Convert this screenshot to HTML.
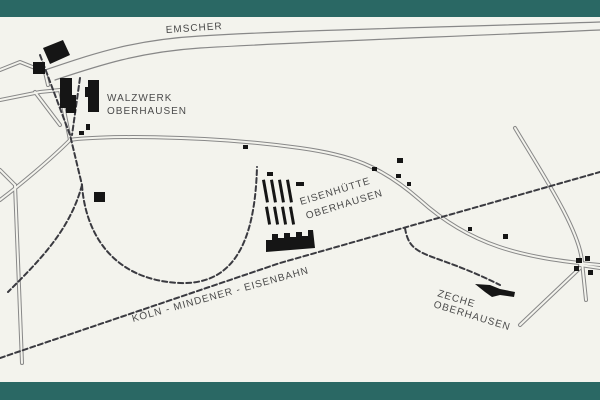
<!DOCTYPE html>
<html><head><meta charset="utf-8"><style>
html,body{margin:0;padding:0;background:#f3f3ed}
svg{display:block}
text{font-family:"Liberation Sans",sans-serif;fill:#4a4a4a;font-size:10px;letter-spacing:1px}
</style></head><body>
<svg width="600" height="400" viewBox="0 0 600 400" xmlns="http://www.w3.org/2000/svg">
<rect width="600" height="400" fill="#f3f3ed"/>
<g fill="none" stroke-linecap="round" stroke-linejoin="round">
<g stroke="#888" stroke-width="4">
<path d="M70,140 C90,136 200,134 300,148 C350,155 380,165 420,200 C470,245 520,258 600,265"/>
<path d="M70,140 C50,160 20,185 0,200"/>
<path d="M15,185 L22,363"/>
<path d="M0,170 L15,185"/>
<path d="M0,100 L40,92 L60,90 L70,140"/>
<path d="M35,92 L60,125"/>
<path d="M0,70 L20,62 L45,72 L48,85"/>
<path d="M515,128 C540,170 580,230 582,262 L586,300"/>
<path d="M520,325 L580,268"/>
<path d="M580,265 L600,268"/>
</g>
<g stroke="#f3f3ed" stroke-width="2">
<path d="M70,140 C90,136 200,134 300,148 C350,155 380,165 420,200 C470,245 520,258 600,265"/>
<path d="M70,140 C50,160 20,185 0,200"/>
<path d="M15,185 L22,363"/>
<path d="M0,170 L15,185"/>
<path d="M0,100 L40,92 L60,90 L70,140"/>
<path d="M35,92 L60,125"/>
<path d="M0,70 L20,62 L45,72 L48,85"/>
<path d="M515,128 C540,170 580,230 582,262 L586,300"/>
<path d="M520,325 L580,268"/>
<path d="M580,265 L600,268"/>
</g>
<g stroke="#888" stroke-width="1.2">
<path d="M45,70 C90,55 130,40 200,36 C300,30 420,28 600,22"/>
<path d="M55,80 C100,65 140,52 200,48 C300,42 420,38 600,30"/>
</g>
<g stroke="#3a3a40" stroke-width="2" stroke-dasharray="5,3">
<path d="M0,358 L280,263 L600,172"/>
<path d="M40,55 L70,135 L82,185"/>
<path d="M80,78 L72,135"/>
<path d="M82,185 C70,230 40,260 8,292"/>
<path d="M82,185 C85,230 110,280 180,283 C235,285 255,240 257,167"/>
<path d="M405,228 C410,260 430,250 500,285"/>
</g>
</g>
<g fill="#151515">
<polygon points="43,48 63,40 70,55 50,64"/>
<rect x="33" y="62" width="12" height="12"/>
<rect x="60" y="78" width="12" height="30"/>
<rect x="66" y="95" width="10" height="18"/>
<rect x="88" y="80" width="11" height="32"/>
<rect x="85" y="87" width="5" height="10"/>
<rect x="86" y="124" width="4" height="6"/>
<rect x="79" y="131" width="5" height="4"/>
<rect x="243" y="145" width="5" height="4"/>
<rect x="94" y="192" width="11" height="10"/>
<rect x="267" y="172" width="6" height="4"/>
<g transform="translate(262,180)">
<rect x="0" y="0" width="3" height="23" transform="rotate(-10)"/>
<rect x="8" y="0" width="3" height="23" transform="rotate(-10 8 0)"/>
<rect x="16" y="0" width="3" height="23" transform="rotate(-10 16 0)"/>
<rect x="24" y="0" width="3" height="23" transform="rotate(-10 24 0)"/>
<rect x="3" y="27" width="3" height="18" transform="rotate(-10 3 27)"/>
<rect x="11" y="27" width="3" height="18" transform="rotate(-10 11 27)"/>
<rect x="19" y="27" width="3" height="18" transform="rotate(-10 19 27)"/>
<rect x="27" y="27" width="3" height="18" transform="rotate(-10 27 27)"/>
</g>
<rect x="296" y="182" width="8" height="4"/>
<path d="M266,240 L266,252 L315,248 L313,230 L308,230 L308,236 L302,236 L302,232 L296,232 L296,237 L290,237 L290,233 L284,233 L284,238 L278,238 L278,234 L272,234 L272,240 Z"/>
<rect x="372" y="167" width="5" height="4"/>
<rect x="397" y="158" width="6" height="5"/>
<rect x="396" y="174" width="5" height="4"/>
<rect x="407" y="182" width="4" height="4"/>
<rect x="468" y="227" width="4" height="4"/>
<rect x="503" y="234" width="5" height="5"/>
<path d="M475,284 L490,285 L500,289 L515,292 L514,297 L500,295 L492,297 L485,292 Z"/>
<rect x="576" y="258" width="6" height="5"/>
<rect x="585" y="256" width="5" height="5"/>
<rect x="574" y="266" width="5" height="5"/>
<rect x="588" y="270" width="5" height="5"/>
</g>
<text x="166" y="33" transform="rotate(-4 166 33)">EMSCHER</text>
<text x="107" y="101">WALZWERK</text>
<text x="107" y="114">OBERHAUSEN</text>
<text x="301" y="205" transform="rotate(-17 301 205)">EISENHÜTTE</text>
<text x="307" y="219" transform="rotate(-17 307 219)">OBERHAUSEN</text>
<text x="133" y="322" transform="rotate(-15.5 133 322)">KÖLN - MINDENER - EISENBAHN</text>
<text x="437" y="296" transform="rotate(17 437 296)">ZECHE</text>
<text x="433" y="307" transform="rotate(17 433 307)">OBERHAUSEN</text>
<rect x="0" y="0" width="600" height="17" fill="#2a6864"/>
<rect x="0" y="382" width="600" height="18" fill="#2a6864"/>
</svg>
</body></html>
